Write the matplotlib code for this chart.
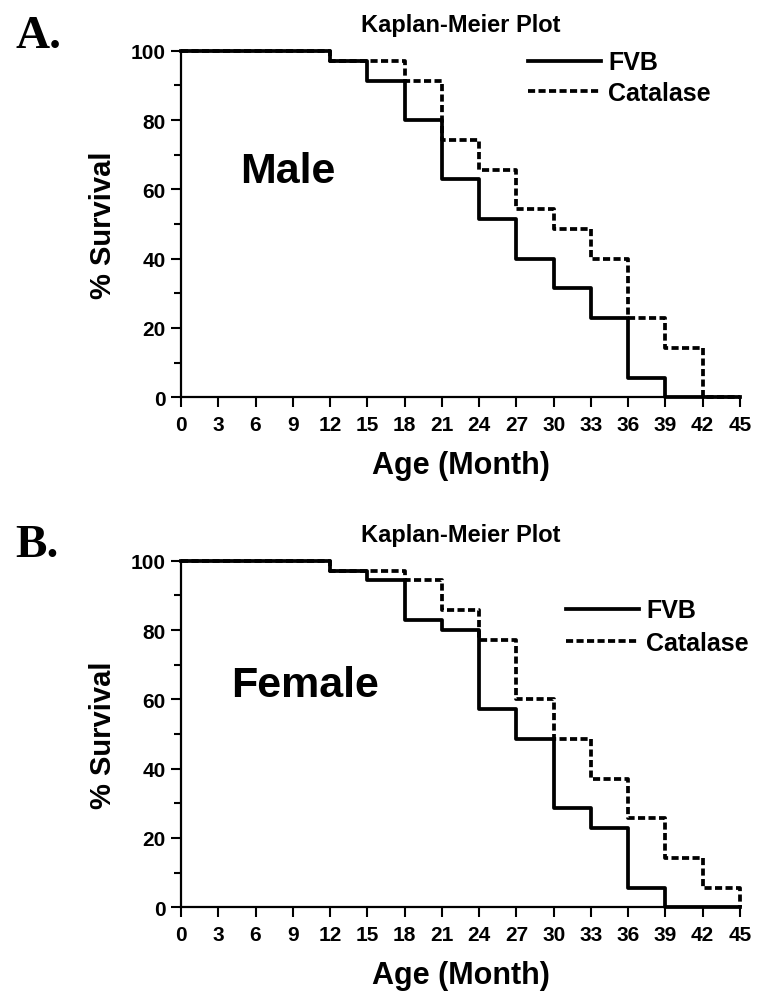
import matplotlib
matplotlib.use("Agg")
import matplotlib.pyplot as plt
from matplotlib.ticker import MultipleLocator

# Kaplan-Meier survival, % alive at each age (months)
male_fvb_t = [0, 12, 15, 18, 21, 24, 27, 30, 33, 36, 39, 45]
male_fvb_s = [100, 97.1, 91.4, 80.0, 62.9, 51.4, 40.0, 31.4, 22.9, 5.7, 0, 0]
male_cat_t = [0, 12, 18, 21, 24, 27, 30, 33, 36, 39, 42, 45]
male_cat_s = [100, 97.1, 91.4, 74.3, 65.7, 54.3, 48.6, 40.0, 22.9, 14.3, 0, 0]

female_fvb_t = [0, 12, 15, 18, 21, 24, 27, 30, 33, 36, 39, 45]
female_fvb_s = [100, 97.1, 94.3, 82.9, 80.0, 57.1, 48.6, 28.6, 22.9, 5.7, 0, 0]
female_cat_t = [0, 12, 18, 21, 24, 27, 30, 33, 36, 39, 42, 45]
female_cat_s = [100, 97.1, 94.3, 85.7, 77.1, 60.0, 48.6, 37.1, 25.7, 14.3, 5.7, 0]

x_ticks = list(range(0, 46, 3))

plt.rcParams['font.family'] = ['Liberation Sans', 'DejaVu Sans']
plt.rcParams['font.weight'] = 'bold'

fig = plt.figure(figsize=(7.68, 10.03), dpi=100)

W, H = 768.0, 1003.0


def make_axes(top_px, bottom_px):
    left = 181 / W
    right = 740 / W
    return fig.add_axes([left, 1 - bottom_px / H, right - left, (bottom_px - top_px) / H])


def draw_panel(ax, fvb_t, fvb_s, cat_t, cat_s, sex, sex_xy, leg_anchor, leg_spacing):
    ax.step(fvb_t, fvb_s, where='post', color='black', lw=2.7, clip_on=False, label='FVB')
    ax.step(cat_t, cat_s, where='post', color='black', lw=2.7, clip_on=False,
            linestyle=(0, (1.9, 0.9)), label='Catalase')
    ax.set_xlim(0, 45)
    ax.set_ylim(0, 100)
    ax.spines['top'].set_visible(False)
    ax.spines['right'].set_visible(False)
    ax.spines['left'].set_linewidth(1.6)
    ax.spines['bottom'].set_linewidth(1.6)
    ax.set_xticks(x_ticks)
    ax.yaxis.set_major_locator(MultipleLocator(20))
    ax.yaxis.set_minor_locator(MultipleLocator(10))
    ax.tick_params(axis='both', which='major', direction='out', length=7, width=1.5,
                   labelsize=15, pad=4)
    ax.tick_params(axis='x', which='major', pad=6)
    ax.tick_params(axis='y', which='minor', direction='out', length=5, width=1.5)
    for lab in ax.get_xticklabels() + ax.get_yticklabels():
        lab.set_fontweight('bold')
    ax.set_xlabel('Age (Month)', fontsize=22, fontweight='bold', labelpad=11)
    ax.set_ylabel('% Survival', fontsize=21, fontweight='bold', labelpad=10)
    ax.set_title('Kaplan-Meier Plot', fontsize=17, fontweight='bold', pad=14)
    ax.text(sex_xy[0], sex_xy[1], sex, transform=ax.transAxes, fontsize=31,
            fontweight='bold', ha='center', va='center')
    ax.legend(loc='upper left', bbox_to_anchor=leg_anchor, frameon=False,
              prop={'size': 18, 'weight': 'bold'}, handlelength=2.9,
              handletextpad=0.3, labelspacing=leg_spacing, borderaxespad=0)


axA = make_axes(51.7, 398.3)
draw_panel(axA, male_fvb_t, male_fvb_s, male_cat_t, male_cat_s, 'Male',
           ((288 - 181) / 559, (398.3 - 172) / 346.6), ((518 - 181) / 559, 1.03), 0.25)

axB = make_axes(561.7, 908.3)
draw_panel(axB, female_fvb_t, female_fvb_s, female_cat_t, female_cat_s, 'Female',
           ((305 - 181) / 559, (908.3 - 686) / 346.6), ((556 - 181) / 559, 0.92), 0.35)

fig.text(15 / W, 1 - 37 / H, 'A.', family='Liberation Serif', fontsize=34,
         fontweight='bold', ha='left', va='center')
fig.text(15 / W, 1 - 546 / H, 'B.', family='Liberation Serif', fontsize=34,
         fontweight='bold', ha='left', va='center')

fig.savefig('out.png', dpi=100)
